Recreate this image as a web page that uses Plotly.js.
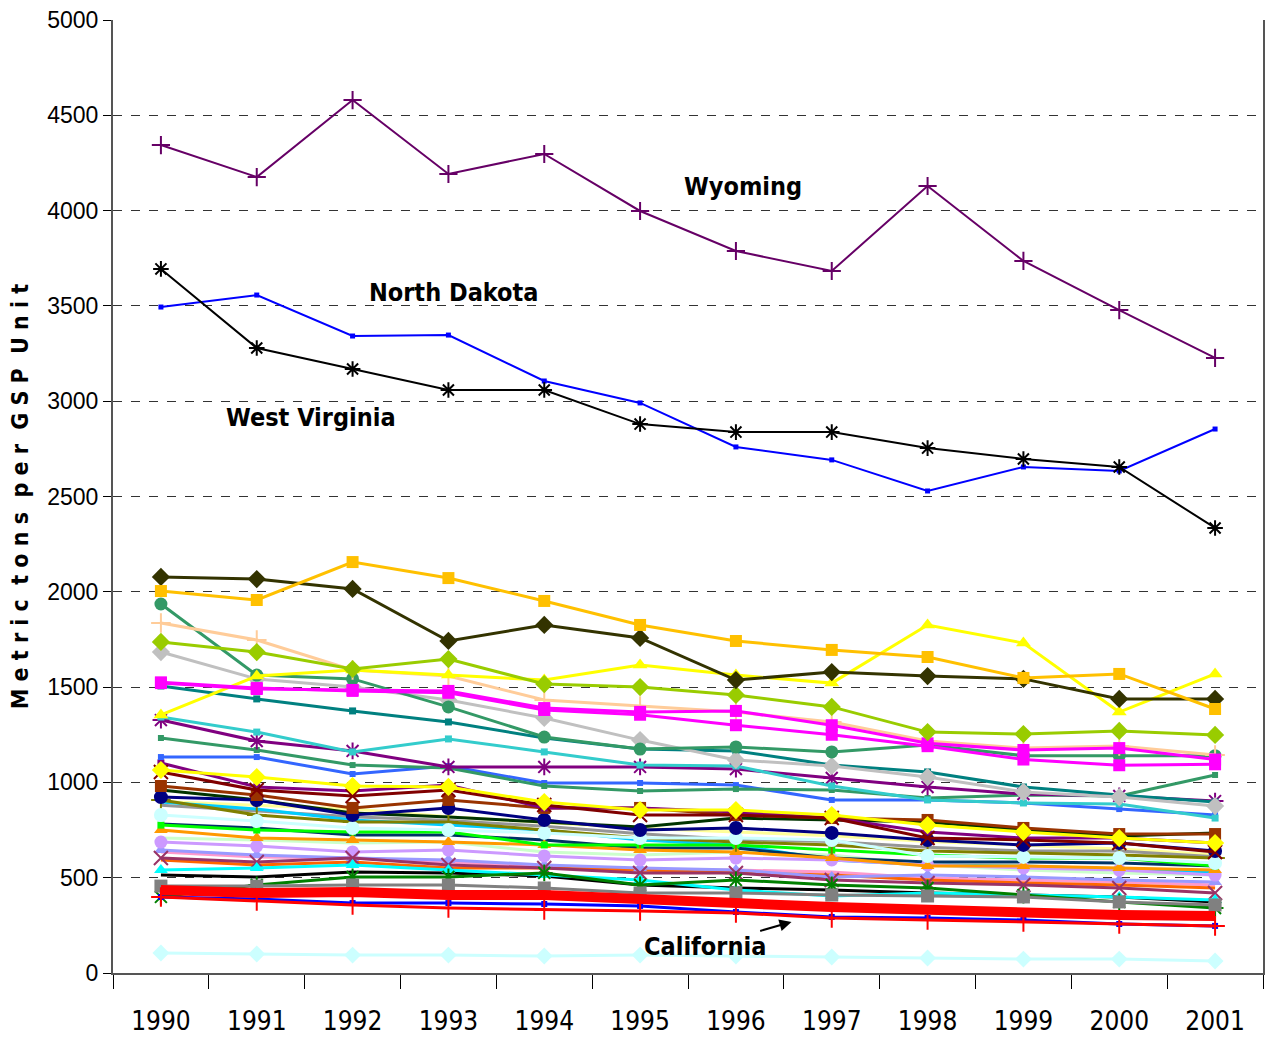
<!DOCTYPE html>
<html>
<head>
<meta charset="utf-8">
<script src="https://cdn.plot.ly/plotly-3.0.1.min.js"></script>
<style>html,body{margin:0;padding:0;background:#fff}#chart{width:1267px;height:1043px}</style>
</head>
<body>
<div id="chart"></div>
<script>
// ---- data ----
const years = ['1990','1991','1992','1993','1994','1995','1996','1997','1998','1999','2000','2001'];

const wyoming      = [4344,4176,4580,4192,4297,3998,3788,3683,4129,3736,3478,3227];
const westVirginia = [3694,3279,3169,3059,3059,2880,2838,2838,2754,2697,2655,2335];
const northDakota  = [3494,3557,3342,3347,3106,2991,2760,2692,2529,2655,2634,2854];

const goldSq       = [2004,1957,2156,2072,1952,1826,1742,1695,1658,1548,1569,1385];
const oliveDiam    = [2078,2067,2015,1742,1826,1758,1537,1579,1558,1543,1438,1438];
const seaCircle    = [1936,1563,1543,1396,1238,1175,1186,1160,1196,1140,1140,1140];
const peachPlus    = [1836,1747,1590,1558,1432,1401,1369,1317,1217,1180,1191,1144];
const limeDiam     = [1737,1684,1595,1647,1516,1500,1459,1396,1264,1254,1270,1249];
const silverDiam   = [1684,1543,1500,1432,1338,1222,1118,1086,1028,950,923,876];
const magentaA     = [1521,1490,1485,1480,1390,1370,1375,1300,1205,1170,1180,1120];
const magentaB     = [1525,1495,1480,1470,1380,1355,1300,1250,1190,1120,1090,1095];
const yellowTri    = [1354,1558,1590,1563,1537,1616,1563,1521,1826,1731,1369,1569];
const tealSq       = [1506,1438,1375,1317,1233,1175,1165,1091,1055,976,934,897];
const turqSq       = [1343,1264,1160,1228,1160,1091,1086,981,908,892,887,813];
const purpleStar   = [1327,1217,1165,1081,1081,1081,1070,1023,976,939,929,902];
const seaSq        = [1233,1170,1091,1076,981,955,965,960,918,934,929,1039];
const royalSq      = [1133,1133,1044,1086,997,997,986,908,908,892,860,829];

const yellowDiam   = [1065,1028,981,976,897,855,855,829,776,740,708,682];
const darkRedX     = [1055,960,929,960,881,829,829,813,708,698,682,635];
const purpleSq     = [1102,976,955,986,866,866,845,813,740,708,708,682];
const brownSq      = [981,934,866,908,866,866,829,813,803,761,729,729];
const darkGreen    = [960,908,839,818,792,766,813,803,792,750,719,735];
const navyCircle   = [923,908,829,866,803,750,761,735,698,672,682,640];
const lightYellow  = [900,880,860,820,790,760,740,720,690,670,650,620];
const grayLine     = [880,850,820,800,770,730,700,690,660,640,640,610];
const paleCircle   = [829,797,761,750,735,708,708,698,614,609,603,577];
const olivePlus    = [908,829,792,792,750,708,687,672,640,630,619,603];
const skyLine      = [897,860,803,776,750,698,672,593,567,561,546,530];
const greenSq      = [776,750,740,740,672,672,672,645,619,603,603,561];
const slateLine    = [782,761,724,724,698,656,656,603,582,582,577,561];
const orangeTri    = [750,708,698,687,672,645,635,603,561,561,551,540];
const mintLine     = [708,698,682,687,635,619,635,619,567,540,525,514];
const lavCircle    = [687,666,635,645,614,593,603,593,567,551,540,514];
const periTri      = [645,619,603,593,567,551,540,504,514,504,488,477];
const pinkLine     = [635,609,603,582,561,540,540,530,498,488,477,462];
const plumX        = [603,582,603,567,551,525,525,488,472,462,446,420];
const orangeLine   = [593,567,582,551,551,540,525,514,488,472,462,446];
const cyanTri      = [540,551,567,540,514,488,435,404,420,409,399,383];
const blackLine    = [514,504,530,525,509,462,446,435,420,409,399,373];
const greenStar    = [399,462,504,504,525,462,488,462,446,409,373,341];
const graySq       = [456,456,462,462,446,420,420,409,404,399,373,357];
const california   = [435,420,425,409,409,383,367,346,331,315,304,299];
const blueSq       = [399,388,367,367,362,352,320,294,289,278,257,247];
const redPlus      = [399,378,357,341,331,325,315,289,278,268,257,247];
const paleDiam     = [105,100,94,94,89,94,89,84,79,73,73,63];

// ---- styles (separate from data) ----
const series = [
  {y: lightYellow, c:'#FFFF99', s:null},
  {y: grayLine,    c:'#969696', s:null},
  {y: mintLine,    c:'#CCFFCC', s:null},
  {y: pinkLine,    c:'#FF99CC', s:null},
  {y: orangeLine,  c:'#FF6600', s:null},
  {y: skyLine,     c:'#00CCFF', s:null},
  {y: slateLine,   c:'#003366', s:null},
  {y: darkGreen,   c:'#003300', s:null},
  {y: blackLine,   c:'#000000', s:null},
  {y: periTri,     c:'#9999FF', s:'triangle-up', ms:12},
  {y: lavCircle,   c:'#CC99FF', s:'circle', ms:13},
  {y: orangeTri,   c:'#FF9900', s:'triangle-up', ms:12},
  {y: greenSq,     c:'#00FF00', s:'square', ms:7},
  {y: olivePlus,   c:'#808000', s:'cross-thin', ms:14, open:true},
  {y: paleCircle,  c:'#CCFFFF', s:'circle', ms:14},
  {y: plumX,       c:'#993366', s:'x-thin', ms:14, open:true},
  {y: cyanTri,     c:'#00FFFF', s:'triangle-up', ms:12},
  {y: greenStar,   c:'#008000', s:'asterisk', ms:14, open:true},
  {y: navyCircle,  c:'#000080', s:'circle', ms:14},
  {y: brownSq,     c:'#993300', s:'square', ms:12},
  {y: purpleSq,    c:'#800080', s:'square', ms:7},
  {y: darkRedX,    c:'#800000', s:'x-thin', ms:14, open:true},
  {y: yellowDiam,  c:'#FFFF00', s:'diamond', ms:14},
  {y: royalSq,     c:'#3366FF', s:'square', ms:6},
  {y: seaSq,       c:'#339966', s:'square', ms:6},
  {y: purpleStar,  c:'#800080', s:'asterisk', ms:14, open:true},
  {y: turqSq,      c:'#33CCCC', s:'square', ms:7},
  {y: tealSq,      c:'#008080', s:'square', ms:7},
  {y: silverDiam,  c:'#C0C0C0', s:'diamond', ms:14},
  {y: seaCircle,   c:'#339966', s:'circle', ms:13},
  {y: peachPlus,   c:'#FFCC99', s:'cross-thin', ms:14, open:true},
  {y: yellowTri,   c:'#FFFF00', s:'triangle-up', ms:13},
  {y: magentaB,    c:'#FF00FF', s:'square', ms:12},
  {y: magentaA,    c:'#FF00FF', s:'square', ms:12},
  {y: limeDiam,    c:'#99CC00', s:'diamond', ms:14},
  {y: oliveDiam,   c:'#333300', s:'diamond', ms:14},
  {y: goldSq,      c:'#FFC000', s:'square', ms:12},
  {y: graySq,      c:'#808080', s:'square', ms:13},
  {y: blueSq,      c:'#0000FF', s:'square', ms:6},
  {y: redPlus,     c:'#FF0000', s:'cross-thin', ms:14, open:true},
  {y: california,  c:'#FF0000', s:null, w:10},
  {y: paleDiam,    c:'#CCFFFF', s:'diamond', ms:13},
  {y: northDakota, c:'#0000FF', s:'square', ms:5, w:2},
  {y: westVirginia,c:'#000000', s:'asterisk', ms:13, open:true, w:2},
  {y: wyoming,     c:'#660066', s:'cross-thin', ms:13, open:true, w:2}
];

const traces = series.map(d => {
  const t = {
    type:'scatter', x: years, y: d.y,
    mode: d.s ? 'lines+markers' : 'lines',
    line: {color: d.c, width: d.w || 3},
    showlegend:false, hoverinfo:'skip'
  };
  if (d.s) {
    t.marker = {symbol: d.s, size: d.ms, color: d.c,
                line: {color: d.c, width: d.open ? 2 : 0}};
  }
  return t;
});

const narrow = '"Liberation Sans Narrow","DejaVu Sans Condensed",sans-serif';
const labelFont = {family: narrow, size:25, color:'#000', weight:'bold'};

const layout = {
  width:1267, height:1043,
  margin:{l:113, r:4, t:20, b:70},
  paper_bgcolor:'#fff', plot_bgcolor:'#fff',
  showlegend:false,
  xaxis:{
    type:'category', range:[-0.5, 11.5],
    showgrid:false, zeroline:false,
    showline:true, linecolor:'#555', linewidth:2,
    ticks:'outside', tickson:'boundaries', ticklen:14, tickcolor:'#000', tickwidth:1,
    ticklabelstandoff:24,
    tickfont:{family: narrow, size:26, color:'#000'}
  },
  yaxis:{
    range:[0,5000], dtick:500, tick0:0,
    showgrid:true, gridcolor:'#333', griddash:'dash', gridwidth:1,
    zeroline:false,
    showline:true, linecolor:'#555', linewidth:2, mirror:true,
    ticks:'outside', ticklen:8, tickcolor:'#000',
    tickfont:{family:'"Liberation Sans",Arial,sans-serif', size:23, color:'#000'},
    title:{text:'M e t r i c  t o n s  p e r  G S P  U n i t', standoff:12,
           font:{family: narrow, size:23, color:'#000', weight:'bold'}}
  },
  annotations:[
    {x:6.07, y:4124, xref:'x', yref:'y', text:'Wyoming', showarrow:false, font:labelFont},
    {x:3.05, y:3568, xref:'x', yref:'y', text:'North Dakota', showarrow:false, font:labelFont},
    {x:1.57, y:2912, xref:'x', yref:'y', text:'West Virginia', showarrow:false, font:labelFont},
    {x:6.58, y:268, xref:'x', yref:'y', text:'California', showarrow:true,
     ax:-87, ay:25, arrowhead:2, arrowsize:1.2, arrowwidth:2, arrowcolor:'#000', font:labelFont}
  ]
};

Plotly.newPlot('chart', traces, layout, {staticPlot:true, displayModeBar:false});
</script>
</body>
</html>
